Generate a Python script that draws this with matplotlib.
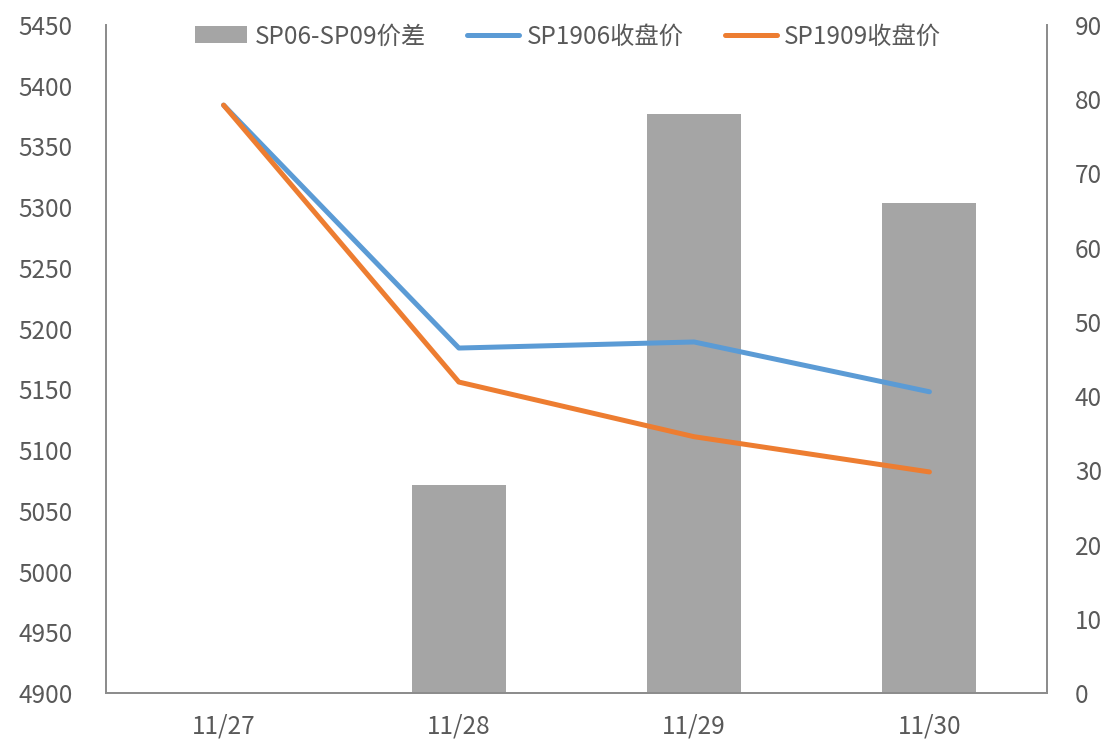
import matplotlib
matplotlib.use("Agg")
import matplotlib.pyplot as plt
import numpy as np

plt.rcParams['font.family'] = ['Noto Sans CJK SC', 'DejaVu Sans']

categories = ["11/27", "11/28", "11/29", "11/30"]
spread = [0, 28, 78, 66]
sp1906 = [5384, 5184, 5189, 5148]
sp1909 = [5384, 5156, 5111, 5082]

fig = plt.figure(figsize=(11.06, 7.41), dpi=100)
ax_bar = fig.add_axes([0.0958, 0.0648, 0.9467 - 0.0958, 0.9663 - 0.0648])
ax_line = ax_bar.twinx()

x = np.arange(len(categories))
ax_bar.bar(x, spread, width=0.4, color="#A5A5A5", label="SP06-SP09价差")
ax_bar.set_ylim(0, 90)
ax_bar.set_yticks(range(0, 91, 10))
ax_bar.yaxis.tick_right()
ax_bar.set_xlim(-0.5, 3.5)
ax_bar.set_xticks(x)
ax_bar.set_xticklabels(categories)

l1, = ax_line.plot(x, sp1906, color="#5B9BD5", lw=3.6, label="SP1906收盘价", solid_capstyle="round")
l2, = ax_line.plot(x, sp1909, color="#ED7D31", lw=3.6, label="SP1909收盘价", solid_capstyle="round")
ax_line.set_ylim(4900, 5450)
ax_line.set_yticks(range(4900, 5451, 50))
ax_line.yaxis.tick_left()

gray = "#8C8C8C"
fs = 17.5
for a in (ax_bar, ax_line):
    a.spines['top'].set_visible(False)
    for s in ('left', 'right', 'bottom'):
        a.spines[s].set_color(gray)
        a.spines[s].set_linewidth(1.3)
    a.tick_params(length=0, labelsize=fs, colors="#595959")
    a.tick_params(axis='x', pad=15)
ax_line.tick_params(axis='y', pad=24)
ax_bar.tick_params(axis='y', pad=20)

handles = [ax_bar.patches[0], l1, l2]
labels = ["SP06-SP09价差", "SP1906收盘价", "SP1909收盘价"]
leg = ax_line.legend(handles, labels, loc="upper center", bbox_to_anchor=(0.491, 1.035),
                     ncol=3, frameon=False, fontsize=fs, handlelength=2.15,
                     columnspacing=1.7, handletextpad=0.3, labelcolor="#595959")

fig.savefig("out.png", dpi=100)
